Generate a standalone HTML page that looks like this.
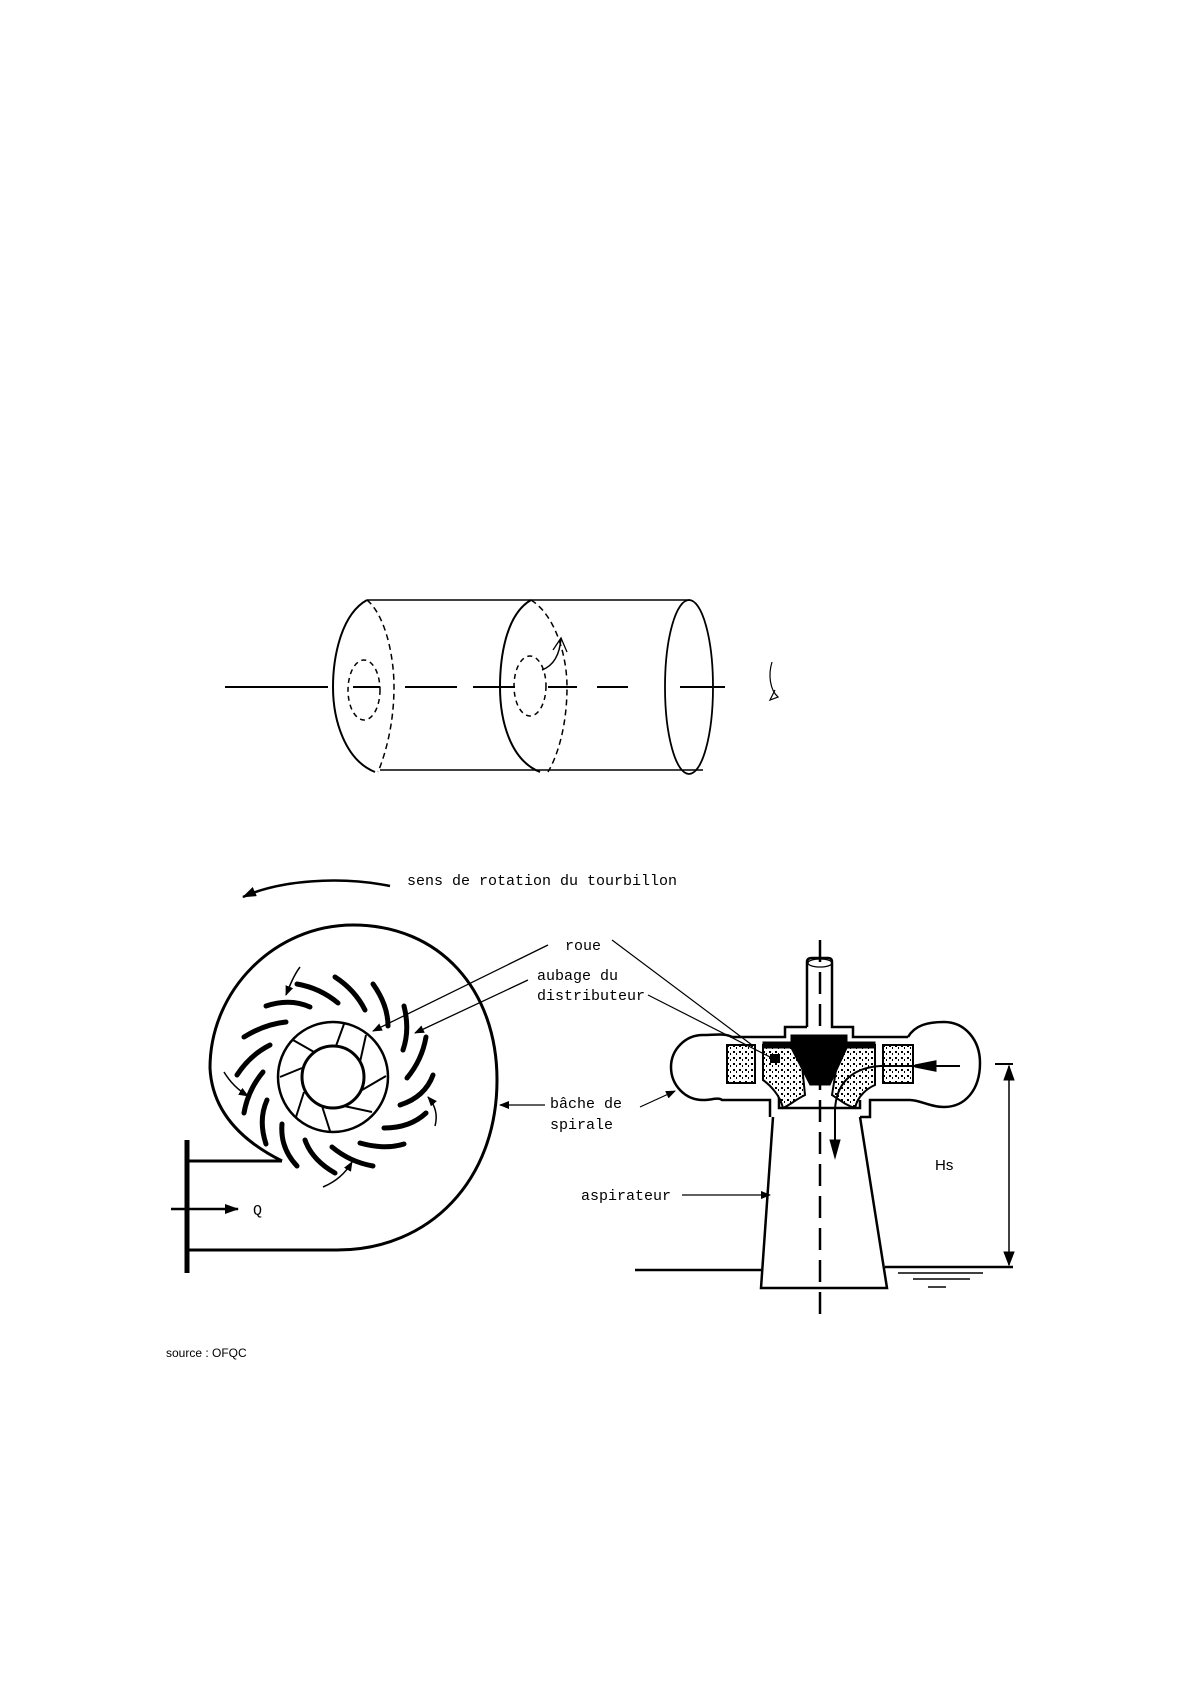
<!DOCTYPE html>
<html><head><meta charset="utf-8"><style>
html,body{margin:0;padding:0;background:#fff}
svg{display:block}
text{font-family:"Liberation Mono",monospace;font-size:15px;fill:#000}
</style></head><body>
<svg width="1190" height="1684" viewBox="0 0 1190 1684" xmlns="http://www.w3.org/2000/svg">
<defs>
<pattern id="dots" width="6" height="6" patternUnits="userSpaceOnUse">
<rect width="6" height="6" fill="#fff"/><rect x="1" y="1" width="2" height="2" fill="#000"/><rect x="4" y="3" width="1" height="2" fill="#000"/>
</pattern>
<marker id="ah" markerWidth="10" markerHeight="8" refX="9" refY="4" orient="auto" markerUnits="userSpaceOnUse"><path d="M0,0 L10,4 L0,8 Z" fill="#000"/></marker>
<marker id="ahl" markerWidth="14" markerHeight="10" refX="13" refY="5" orient="auto" markerUnits="userSpaceOnUse"><path d="M0,0 L14,5 L0,10 Z" fill="#000"/></marker>
</defs>
<g fill="none" stroke="#000">
<!-- cylinder -->
<line x1="367" y1="600" x2="690" y2="600" stroke-width="1.5"/>
<line x1="380" y1="770" x2="703" y2="770" stroke-width="1.5"/>
<path d="M367,600 C340,615 333,660 333,687 C333,720 345,760 375,772" stroke-width="2"/>
<path d="M367,600 C385,615 394,655 394,687 C394,725 385,755 378,772" stroke-width="1.5" stroke-dasharray="6,4"/>
<ellipse cx="364" cy="690" rx="16" ry="30" stroke-width="1.5" stroke-dasharray="5,4"/>
<path d="M531,600 C505,615 500,660 500,687 C500,720 510,760 540,772" stroke-width="2"/>
<path d="M531,600 C555,615 567,655 567,687 C567,725 558,755 548,772" stroke-width="1.5" stroke-dasharray="6,4"/>
<ellipse cx="530" cy="686" rx="16" ry="30" stroke-width="1.5" stroke-dasharray="5,4"/>
<ellipse cx="689" cy="687" rx="24" ry="87" stroke-width="1.8"/>
<line x1="225" y1="687" x2="328" y2="687" stroke-width="2"/>
<path d="M353,687 H380 M405,687 H457 M473,687 H515 M548,687 H577 M597,687 H628 M680,687 H725" stroke-width="2"/>
<path d="M542,670 C555,665 560,652 561,638" stroke-width="1.5"/>
<path d="M553,650 L561,638 L567,652" stroke-width="1.3"/>
<path d="M772,662 C768,675 770,690 778,697 L770,700 L775,690" stroke-width="1.2"/>

<!-- rotation arrow -->
<path d="M390,886 C340,876 280,880 243,897" stroke-width="2.5" marker-end="url(#ahl)"/>

<!-- spiral casing -->
<path d="M282,1161 C240,1140 212,1110 210,1068 C210,990 275,925 353,925 C440,925 497,990 497,1080 C497,1180 430,1250 337,1250" stroke-width="3"/>
<line x1="187" y1="1140" x2="187" y2="1273" stroke-width="5"/>
<line x1="187" y1="1161" x2="282" y2="1161" stroke-width="3"/>
<line x1="187" y1="1250" x2="337" y2="1250" stroke-width="3"/>
<line x1="171" y1="1209" x2="238" y2="1209" stroke-width="2.5" marker-end="url(#ahl)"/>
<!-- runner -->
<circle cx="333" cy="1077" r="55" stroke-width="2.5"/>
<circle cx="333" cy="1077" r="31" stroke-width="3"/>
<g stroke-width="2">
<line x1="336" y1="1046" x2="344" y2="1024"/>
<line x1="360" y1="1062" x2="366" y2="1035"/>
<line x1="362" y1="1090" x2="386" y2="1076"/>
<line x1="344" y1="1106" x2="372" y2="1112"/>
<line x1="322" y1="1106" x2="330" y2="1131"/>
<line x1="304" y1="1092" x2="296" y2="1117"/>
<line x1="302" y1="1068" x2="280" y2="1077"/>
<line x1="314" y1="1052" x2="293" y2="1040"/>
</g>
<!-- guide vane flow strokes -->
<g stroke-width="5" stroke-linecap="round">
<path d="M433,1075 Q425,1097 400,1105"/>
<path d="M426,1113 Q410,1128 384,1128"/>
<path d="M404,1144 Q385,1150 360,1143"/>
<path d="M373,1166 Q350,1162 332,1147"/>
<path d="M335,1173 Q312,1160 305,1140"/>
<path d="M297,1166 Q280,1148 282,1124"/>
<path d="M266,1144 Q258,1120 267,1100"/>
<path d="M244,1113 Q248,1090 263,1072"/>
<path d="M237,1075 Q250,1055 270,1045"/>
<path d="M244,1037 Q265,1024 286,1022"/>
<path d="M266,1006 Q290,998 310,1007"/>
<path d="M297,984 Q320,988 338,1003"/>
<path d="M335,977 Q355,990 365,1010"/>
<path d="M373,984 Q388,1005 388,1026"/>
<path d="M404,1006 Q410,1030 403,1050"/>
<path d="M426,1037 Q422,1060 407,1078"/>
</g>
<g stroke-width="1.5">
<path d="M435,1126 C438,1115 435,1105 428,1097" marker-end="url(#ah)"/>
<path d="M323,1187 C335,1182 345,1174 352,1162" marker-end="url(#ah)"/>
<path d="M224,1072 C230,1082 238,1090 248,1096" marker-end="url(#ah)"/>
<path d="M300,967 C294,975 290,985 286,995" marker-end="url(#ah)"/>
</g>
<!-- leaders left -->
<g stroke-width="1.3">
<line x1="548" y1="945" x2="373" y2="1031" marker-end="url(#ah)"/>
<line x1="528" y1="980" x2="415" y2="1033" marker-end="url(#ah)"/>
<line x1="545" y1="1105" x2="500" y2="1105" marker-end="url(#ah)"/>
</g>

<!-- turbine -->
<line x1="820" y1="940" x2="820" y2="1315" stroke-width="2.5" stroke-dasharray="22,10"/>
<path d="M807,1027 V962 Q807,958 812,958 H828 Q832,958 832,962 V1027 H853 V1037 H908" stroke-width="2.5"/>
<path d="M807,1027 H785 V1037 H732" stroke-width="2.5"/>
<ellipse cx="820" cy="963" rx="12" ry="4" stroke-width="1.3"/>
<path d="M732,1037 C725,1033 715,1035 703,1035 C685,1035 671,1050 671,1067 C671,1085 685,1100 703,1100 C712,1100 718,1097 722,1100 H770 V1117" stroke-width="2.5"/>
<path d="M908,1037 C915,1025 928,1022 944,1022 C965,1022 980,1040 980,1063 C980,1090 965,1107 944,1107 C930,1107 920,1100 910,1100 H870 V1117 H860" stroke-width="2.5"/>
<path d="M773,1117 L761,1288 H887 L860,1117" stroke-width="2.5"/>
<path d="M779,1045 V1108 H860 V1100" stroke-width="2.5"/>
<line x1="635" y1="1270" x2="761" y2="1270" stroke-width="2.5"/>
<line x1="885" y1="1267" x2="1013" y2="1267" stroke-width="2.5"/>
<line x1="898" y1="1273" x2="983" y2="1273" stroke-width="1.5"/>
<line x1="913" y1="1279" x2="970" y2="1279" stroke-width="1.5"/>
<line x1="928" y1="1287" x2="946" y2="1287" stroke-width="1.5"/>
<line x1="995" y1="1064" x2="1013" y2="1064" stroke-width="2"/>
<line x1="1009" y1="1066" x2="1009" y2="1265" stroke-width="1.5"/>
<path d="M1004,1080 L1009,1066 L1014,1080 Z M1004,1252 L1009,1265 L1014,1252 Z" fill="#000"/>
<!-- boxes and blades -->
<rect x="727" y="1045" width="28" height="38" fill="url(#dots)" stroke-width="2"/>
<rect x="883" y="1045" width="30" height="38" fill="url(#dots)" stroke-width="2"/>
<path d="M763,1045 H800 L805,1095 C795,1100 790,1105 783,1108 C780,1095 770,1085 763,1080 Z" fill="url(#dots)" stroke-width="2"/>
<path d="M875,1045 H840 L832,1095 C840,1100 845,1105 855,1108 C858,1095 868,1088 875,1085 Z" fill="url(#dots)" stroke-width="2"/>
<path d="M791,1035 H847 V1042 H875 V1048 H847 L830,1085 H810 L791,1048 H763 V1042 H791 Z" fill="#000" stroke-width="1"/>
<rect x="770" y="1054" width="10" height="9" fill="#000" stroke="none"/>
<!-- flow arrow -->
<line x1="960" y1="1066" x2="880" y2="1066" stroke-width="2"/>
<path d="M935,1062 L915,1066 L935,1070 Z" fill="#000" stroke-width="3"/>
<path d="M880,1066 C850,1068 836,1085 835,1110 V1150" stroke-width="2"/>
<path d="M830,1140 L835,1158 L840,1140 Z" fill="#000" stroke-width="1"/>
<!-- leaders right -->
<g stroke-width="1.2">
<line x1="612" y1="940" x2="752" y2="1045"/>
<line x1="648" y1="995" x2="772" y2="1058"/>
<line x1="640" y1="1107" x2="675" y2="1091" marker-end="url(#ah)"/>
<line x1="682" y1="1195" x2="770" y2="1195" marker-end="url(#ah)"/>
</g>
</g>
<text x="407" y="885">sens de rotation du tourbillon</text>
<text x="565" y="950">roue</text>
<text x="537" y="980">aubage du</text>
<text x="537" y="1000">distributeur</text>
<text x="550" y="1108">bâche de</text>
<text x="550" y="1129">spirale</text>
<text x="253" y="1215">Q</text>
<text x="581" y="1200">aspirateur</text>
<text x="935" y="1170" style="font-family:'Liberation Sans',sans-serif">Hs</text>
<text x="166" y="1357" style="font-family:'Liberation Sans',sans-serif;font-size:12px">source :  OFQC</text>
</svg>
</body></html>
